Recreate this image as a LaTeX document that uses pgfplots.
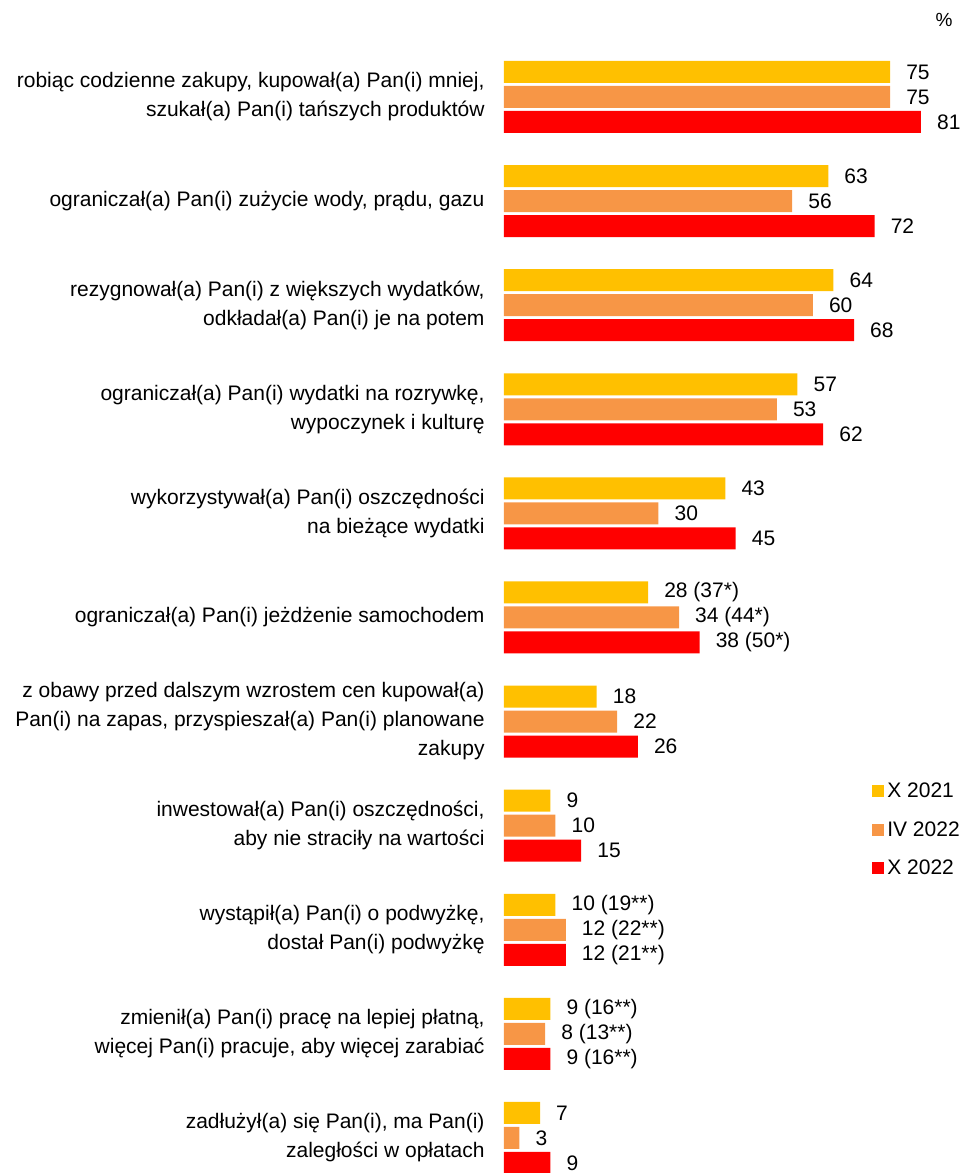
\documentclass[border=0pt]{standalone}
\usepackage{fontspec}
\setmainfont{Liberation Sans}
\usepackage{pgfplots}
\pgfplotsset{compat=1.18}
\definecolor{cYel}{HTML}{FFC000}
\definecolor{cOra}{HTML}{F79646}
\definecolor{cRed}{HTML}{FF0000}
\newcommand{\fnt}{\fontsize{21}{29}\selectfont}
\begin{document}
\begin{tikzpicture}
\begin{axis}[
  at={(0pt,0pt)}, anchor=south west,
  scale only axis, width=411.8pt, height=1145.1pt,
  xbar, bar width=22pt,
  xmin=0, xmax=80, ymin=-0.5, ymax=10.5, y dir=reverse,
  axis x line=none, axis y line*=left,
  y axis line style={draw=none}, ytick style={draw=none},
  xtick=\empty,
  ytick={0,...,10},
  yticklabels={
    {robiąc codzienne zakupy, kupował(a) Pan(i) mniej,\\szukał(a) Pan(i) tańszych produktów},
    {ograniczał(a) Pan(i) zużycie wody, prądu, gazu},
    {rezygnował(a) Pan(i) z większych wydatków,\\odkładał(a) Pan(i) je na potem},
    {ograniczał(a) Pan(i) wydatki na rozrywkę,\\wypoczynek i kulturę},
    {wykorzystywał(a) Pan(i) oszczędności\\na bieżące wydatki},
    {ograniczał(a) Pan(i) jeżdżenie samochodem},
    {z obawy przed dalszym wzrostem cen kupował(a)\\Pan(i) na zapas, przyspieszał(a) Pan(i) planowane\\zakupy},
    {inwestował(a) Pan(i) oszczędności,\\aby nie straciły na wartości},
    {wystąpił(a) Pan(i) o podwyżkę,\\dostał Pan(i) podwyżkę},
    {zmienił(a) Pan(i) pracę na lepiej płatną,\\więcej Pan(i) pracuje, aby więcej zarabiać},
    {zadłużył(a) się Pan(i), ma Pan(i)\\zaległości w opłatach}
  },
  yticklabel style={align=right, font=\fnt, inner sep=0pt, xshift=-15pt},
  nodes near coords, point meta=explicit symbolic,
  every node near coord/.append style={anchor=west, inner sep=0pt, xshift=16pt, font=\fnt, text=black},
  clip=false,
  legend style={at={(rel axis cs:0.894,0.358)}, anchor=north west, draw=none, fill=none,
    inner sep=0pt, row sep=16pt, font=\fnt, legend cell align=left,
    nodes={inner sep=3pt}},
  legend image code/.code={\fill[#1] (0pt,-6pt) rectangle (12pt,6pt);},
]
\addplot[fill=cYel, draw=none, bar shift=25pt] coordinates {
  (75,0) [75] (63,1) [63] (64,2) [64] (57,3) [57] (43,4) [43]
  (28,5) [{28 (37*)}] (18,6) [18] (9,7) [9] (10,8) [{10 (19**)}]
  (9,9) [{9 (16**)}] (7,10) [7]
};
\addplot[fill=cOra, draw=none, bar shift=0pt] coordinates {
  (75,0) [75] (56,1) [56] (60,2) [60] (53,3) [53] (30,4) [30]
  (34,5) [{34 (44*)}] (22,6) [22] (10,7) [10] (12,8) [{12 (22**)}]
  (8,9) [{8 (13**)}] (3,10) [3]
};
\addplot[fill=cRed, draw=none, bar shift=-25pt] coordinates {
  (81,0) [81] (72,1) [72] (68,2) [68] (62,3) [62] (45,4) [45]
  (38,5) [{38 (50*)}] (26,6) [26] (15,7) [15] (12,8) [{12 (21**)}]
  (9,9) [{9 (16**)}] (9,10) [9]
};
\legend{X 2021, IV 2022, X 2022}
\end{axis}
\node[font=\fontsize{19}{22}\selectfont] at (440pt,1170pt) {\%};
\pgfresetboundingbox
\path[use as bounding box] (-504pt,17pt) rectangle (460pt,1190pt);
\end{tikzpicture}
\end{document}
